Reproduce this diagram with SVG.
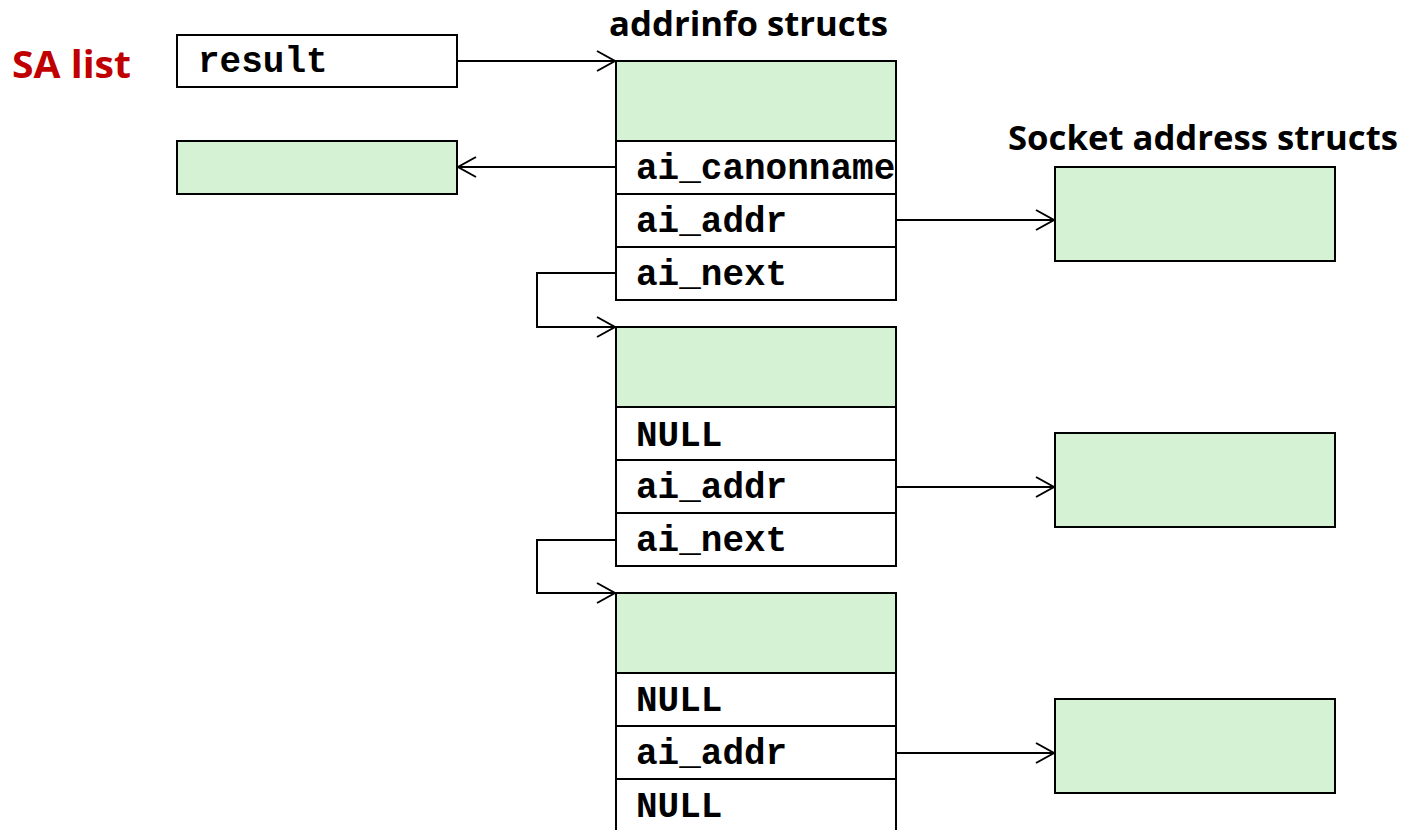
<svg xmlns="http://www.w3.org/2000/svg" width="1404" height="830" viewBox="0 0 1404 830">
<style>
.box{fill:#ffffff;stroke:#000;stroke-width:2}
.g{fill:#d5f2d5;stroke:#000;stroke-width:2}
.mono{font-family:"Liberation Mono","Courier New",monospace;font-weight:bold;font-size:36px;fill:#000}
.title{font-family:"Open Sans","Liberation Sans",sans-serif;font-weight:bold;font-size:34px;fill:#000}
.conn{fill:none;stroke:#000;stroke-width:2}
</style>
<defs>
<marker id="arr" markerUnits="userSpaceOnUse" markerWidth="24" markerHeight="24" refX="20" refY="12" orient="auto">
<polyline points="2,2 20,12 2,22" fill="none" stroke="#000" stroke-width="2"/>
</marker>
</defs>
<rect width="1404" height="830" fill="#fff"/>
<text x="12" y="78" font-family="Open Sans, Liberation Sans, sans-serif" font-weight="bold" font-size="38" fill="#c00000" textLength="119" lengthAdjust="spacingAndGlyphs">SA list</text>
<text class="title" x="609" y="36" textLength="279" lengthAdjust="spacingAndGlyphs">addrinfo structs</text>
<text class="title" x="1008" y="150" textLength="390" lengthAdjust="spacingAndGlyphs">Socket address structs</text>
<g id="result"><rect class="box" x="177" y="35" width="280" height="52"/><text class="mono" x="198" y="72">result</text></g>
<g id="canon"><rect class="g" x="177" y="141" width="280" height="53"/></g>
<g id="ai1">
<rect class="g" x="616" y="61" width="280" height="80"/>
<rect class="box" x="616" y="141" width="280" height="53"/>
<rect class="box" x="616" y="194" width="280" height="53"/>
<rect class="box" x="616" y="247" width="280" height="53"/>
<text class="mono" x="636" y="179">ai_canonname</text>
<text class="mono" x="636" y="232">ai_addr</text>
<text class="mono" x="636" y="285">ai_next</text>
</g>
<g id="ai2">
<rect class="g" x="616" y="327" width="280" height="80"/>
<rect class="box" x="616" y="407" width="280" height="53"/>
<rect class="box" x="616" y="460" width="280" height="53"/>
<rect class="box" x="616" y="513" width="280" height="53"/>
<text class="mono" x="636" y="446">NULL</text>
<text class="mono" x="636" y="498">ai_addr</text>
<text class="mono" x="636" y="551">ai_next</text>
</g>
<g id="ai3">
<rect class="g" x="616" y="593" width="280" height="80"/>
<rect class="box" x="616" y="673" width="280" height="53"/>
<rect class="box" x="616" y="726" width="280" height="53"/>
<rect class="box" x="616" y="779" width="280" height="60"/>
<text class="mono" x="636" y="711">NULL</text>
<text class="mono" x="636" y="764">ai_addr</text>
<text class="mono" x="636" y="817">NULL</text>
</g>
<g id="sa1"><rect class="g" x="1055" y="167" width="280" height="94"/></g>
<g id="sa2"><rect class="g" x="1055" y="433" width="280" height="94"/></g>
<g id="sa3"><rect class="g" x="1055" y="699" width="280" height="94"/></g>
<g id="connectors">
<path class="conn" d="M457,61 H615" marker-end="url(#arr)"/>
<path class="conn" d="M616,167 H458" marker-end="url(#arr)"/>
<path class="conn" d="M896,220 H1054" marker-end="url(#arr)"/>
<path class="conn" d="M896,487 H1054" marker-end="url(#arr)"/>
<path class="conn" d="M896,753 H1054" marker-end="url(#arr)"/>
<path class="conn" d="M616,273 H537 V327 H615" marker-end="url(#arr)"/>
<path class="conn" d="M616,540 H537 V593 H615" marker-end="url(#arr)"/>
</g>
</svg>
